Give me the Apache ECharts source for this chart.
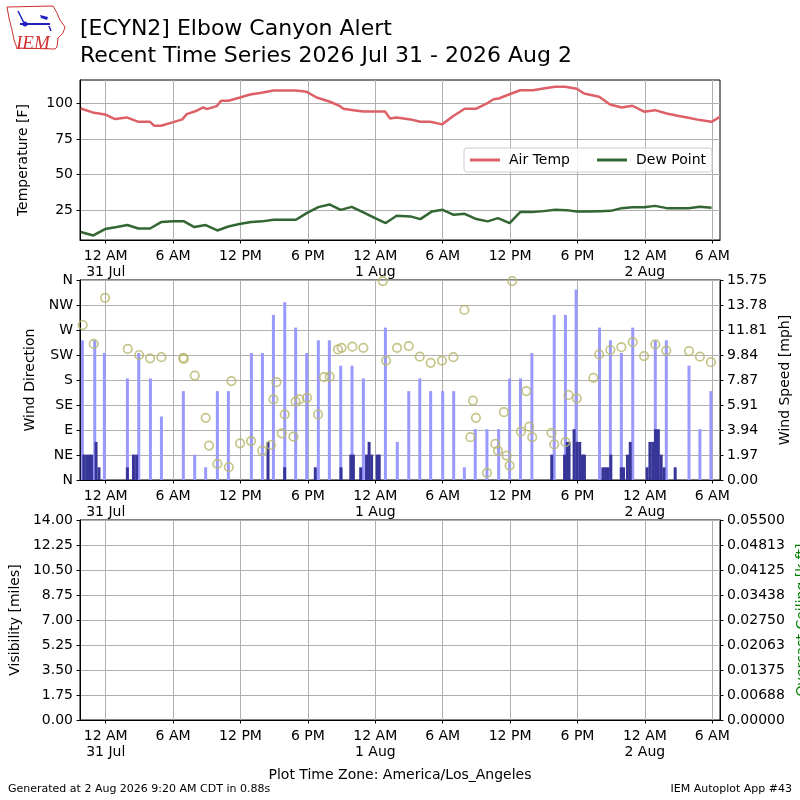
<!DOCTYPE html>
<html>
<head>
<meta charset="utf-8">
<script src="https://cdn.jsdelivr.net/npm/echarts@6/dist/echarts.min.js"></script>
<style>html,body{margin:0;padding:0;background:#fff}#chart{width:800px;height:800px}</style>
</head>
<body>
<div id="chart"></div>
<script>
// hours counted from 31 Jul 00:00 (America/Los_Angeles)
var xMin = -2.29, xMax = 54.69;
var tickHours = [0, 6, 12, 18, 24, 30, 36, 42, 48, 54];
var hourNames = {0: '12 AM', 6: '6 AM', 12: '12 PM', 18: '6 PM'};
var dayNames = ['31 Jul', '1 Aug', '2 Aug'];

var airTempTimes = [-2.23, -1.16, -0.06, 0.83, 1.87, 2.91, 3.95, 4.33, 4.93, 6.02, 6.82, 7.21, 8.1, 8.69, 8.99, 9.88, 10.27, 10.92, 11.96, 12.85, 13.89, 14.93, 16.94, 17.89, 18.78, 19.97, 20.86, 21.16, 22.05, 22.94, 23.98, 24.87, 25.3, 25.9, 27.13, 28.01, 28.9, 29.94, 30.98, 31.96, 33.0, 33.94, 34.53, 34.98, 35.96, 36.9, 38.03, 38.98, 40.01, 40.9, 41.94, 42.59, 43.93, 44.9, 45.94, 46.89, 47.93, 48.9, 49.94, 50.92, 51.87, 52.9, 53.94, 54.69];
var airTemp = [96.5, 93.7, 92.3, 89, 90.2, 87.1, 87.1, 84.3, 84.3, 86.9, 88.8, 92.5, 94.9, 97.2, 96, 98.1, 101.9, 101.9, 104.2, 106.3, 107.5, 109.1, 109.1, 108.2, 104.2, 101.2, 98.1, 96.3, 95.3, 94.4, 94.4, 94.4, 89.5, 90.2, 88.8, 87.1, 87.1, 85.3, 91.4, 96.3, 96.3, 100, 103, 103.5, 106.5, 109.3, 109.3, 110.5, 111.7, 111.7, 110.3, 107, 104.7, 99.3, 97.2, 98.4, 94.2, 95.3, 93, 91.4, 90, 88.3, 87.1, 90.7];

var dewTimes = [-2.23, -1.1, -0.06, 0.98, 1.93, 2.91, 3.95, 4.93, 6.02, 6.97, 7.89, 8.9, 9.94, 10.92, 11.9, 12.94, 13.95, 14.93, 16.94, 17.89, 18.93, 19.91, 20.92, 21.9, 22.94, 23.98, 24.93, 25.9, 27.13, 28.01, 29.05, 30, 30.98, 31.96, 33.0, 34.0, 34.92, 35.96, 36.9, 37.94, 38.98, 40.01, 41.0, 41.94, 42.98, 44.01, 44.96, 45.94, 46.89, 47.93, 48.9, 49.94, 50.92, 51.87, 52.9, 53.94];
var dewPoint = [9.6, 7.2, 11.7, 13.1, 14.5, 12.1, 12.1, 16.6, 17.1, 17.1, 13.1, 14.5, 10.7, 13.5, 15.2, 16.6, 17.1, 18.2, 18.2, 22.9, 27.1, 29, 25.2, 27.3, 23.4, 19.4, 15.9, 21, 20.6, 18.7, 24.1, 25.2, 21.7, 22.4, 18.7, 17.1, 19.4, 15.9, 23.6, 23.6, 24.3, 25.2, 25, 24.1, 24.1, 24.3, 24.5, 26.4, 27.1, 27.1, 28, 26.4, 26.4, 26.4, 27.3, 26.6];

var gustTimes = [-2.08, -0.98, -0.12, 1.93, 2.94, 3.98, 4.96, 6.91, 7.92, 8.9, 9.94, 10.92, 12.97, 13.95, 14.93, 15.94, 16.91, 17.89, 18.93, 19.91, 20.92, 21.93, 22.94, 24.9, 25.96, 26.98, 27.96, 28.93, 30.0, 30.98, 31.93, 32.9, 33.94, 34.98, 35.96, 36.93, 37.94, 39.93, 40.93, 41.88, 43.96, 44.93, 45.91, 46.92, 48.93, 49.91, 51.93, 52.9, 53.88];
var gustValues = [11, 11, 10, 8, 10, 8, 5, 7, 2, 1, 7, 7, 10, 10, 13, 14, 12, 10, 11, 11, 9, 9, 8, 12, 3, 7, 8, 7, 7, 7, 1, 4, 4, 4, 8, 8, 10, 13, 13, 15, 12, 11, 10, 12, 11, 11, 9, 4, 7];

var speedTimes = [-1.95, -1.7, -1.45, -1.25, -0.86, -0.6, 1.93, 2.47, 2.75, 14.45, 15.93, 18.66, 20.95, 21.82, 22.05, 22.7, 23.22, 23.45, 23.67, 24.17, 24.35, 39.71, 40.85, 41.1, 41.25, 41.7, 41.95, 42.2, 42.45, 42.62, 44.26, 44.5, 44.73, 44.97, 45.9, 46.1, 46.45, 46.7, 48.2, 48.45, 48.7, 48.95, 49.2, 49.45, 49.7, 50.7];
var speedValues = [2, 2, 2, 2, 3, 1, 1, 2, 2, 3, 1, 1, 1, 2, 2, 1, 2, 3, 2, 2, 2, 2, 2, 3, 3, 4, 3, 3, 2, 2, 1, 1, 1, 2, 1, 1, 2, 3, 1, 3, 3, 4, 4, 2, 1, 1];

var dirTimes = [-2.05, -1.07, -0.06, 1.96, 2.97, 3.95, 4.96, 6.9, 6.95, 7.93, 8.9, 9.2, 9.94, 10.96, 11.19, 11.96, 12.94, 13.93, 14.7, 14.93, 15.2, 15.67, 15.94, 16.71, 16.91, 17.24, 17.92, 18.9, 19.44, 19.94, 20.68, 21.0, 21.96, 22.94, 24.67, 24.96, 25.94, 26.98, 27.96, 28.93, 29.94, 30.95, 31.93, 32.46, 32.7, 32.96, 33.94, 34.68, 34.92, 35.45, 35.69, 35.96, 36.19, 36.96, 37.44, 37.7, 37.97, 39.69, 39.93, 40.93, 41.2, 41.94, 43.42, 43.93, 44.93, 45.91, 46.92, 47.93, 48.93, 49.91, 51.93, 52.9, 53.88];
var dirValues = [279, 245, 328, 236, 225, 219, 221, 220, 218, 188, 112, 62, 29, 23, 178, 66, 70, 53, 63, 145, 176, 84, 118, 78, 141, 145, 148, 118, 185, 186, 235, 238, 240, 238, 358, 215, 238, 241, 222, 211, 215, 221, 306, 77, 143, 112, 13, 65, 53, 122, 44, 26, 358, 87, 160, 96, 77, 85, 64, 68, 153, 147, 184, 226, 234, 239, 248, 223, 244, 233, 232, 222, 212];

var tempTicks = [25, 50, 75, 100];
var dirLabels = ['N', 'NE', 'E', 'SE', 'S', 'SW', 'W', 'NW', 'N'];
var speedLabels = ['0.00', '1.97', '3.94', '5.91', '7.87', '9.84', '11.81', '13.78', '15.75'];
var visLabels = ['0.00', '1.75', '3.50', '5.25', '7.00', '8.75', '10.50', '12.25', '14.00'];
var ceilLabels = ['0.00000', '0.00688', '0.01375', '0.02063', '0.02750', '0.03438', '0.04125', '0.04813', '0.05500'];

var FONT = 'DejaVu Sans';

function zip(a, b) {
    var out = [];
    for (var i = 0; i < a.length; i++) out.push([a[i], b[i]]);
    return out;
}

function timeLabel(v) {
    var h = Math.round(v);
    var hh = ((h % 24) + 24) % 24;
    var txt = hourNames[hh];
    if (hh === 0) txt += '\n' + dayNames[Math.floor(h / 24)];
    return txt;
}

function timeAxis(gridIndex, show) {
    return {
        type: 'value', gridIndex: gridIndex, min: xMin, max: xMax, show: show,
        axisLine: {show: true, onZero: false, lineStyle: {color: '#000', width: 1}},
        axisTick: {show: true, length: 3.5, customValues: tickHours, lineStyle: {color: '#000'}},
        axisLabel: {customValues: tickHours, formatter: timeLabel, color: '#000', fontSize: 14,
            lineHeight: 16, margin: 8, fontFamily: FONT},
        splitLine: {show: true, lineStyle: {color: '#b0b0b0', width: 1}}
    };
}

function valueAxis(gridIndex, opts) {
    var ax = {
        type: 'value', gridIndex: gridIndex,
        nameLocation: 'middle', nameRotate: 90,
        nameTextStyle: {color: '#000', fontSize: 14, fontFamily: FONT},
        axisLine: {show: true, onZero: false, lineStyle: {color: '#000', width: 1}},
        axisTick: {show: true, length: 3.5, lineStyle: {color: '#000'}},
        axisLabel: {color: '#000', fontSize: 14, margin: 7, fontFamily: FONT},
        splitLine: {show: true, lineStyle: {color: '#b0b0b0', width: 1}}
    };
    for (var k in opts) {
        if (typeof opts[k] === 'object' && ax[k] && !Array.isArray(opts[k])) {
            for (var j in opts[k]) ax[k][j] = opts[k][j];
        } else {
            ax[k] = opts[k];
        }
    }
    return ax;
}

var gridBase = {left: 80, right: 80, show: true, borderColor: '#000', borderWidth: 1,
    backgroundColor: 'transparent', outerBoundsMode: 'none'};
function grid(top, height) {
    var g = {};
    for (var k in gridBase) g[k] = gridBase[k];
    g.top = top;
    g.height = height;
    return g;
}

var chart = echarts.init(document.getElementById('chart'));

var option = {
    animation: false,
    backgroundColor: '#fff',
    textStyle: {fontFamily: FONT},
    title: {
        text: '[ECYN2] Elbow Canyon Alert\nRecent Time Series 2026 Jul 31 - 2026 Aug 2',
        left: 80, top: 16, padding: 0,
        textStyle: {fontSize: 22, fontWeight: 'normal', color: '#000', lineHeight: 27, fontFamily: FONT}
    },
    legend: {
        data: ['Air Temp', 'Dew Point'],
        left: 464, top: 148,
        icon: 'rect',
        itemWidth: 30, itemHeight: 3, itemGap: 27,
        padding: [5, 6, 5, 6],
        borderColor: '#cccccc', borderWidth: 1, borderRadius: 3,
        backgroundColor: 'rgba(255,255,255,0.8)',
        textStyle: {fontSize: 14, color: '#000', fontFamily: FONT, padding: [0, 0, 0, 4], lineHeight: 14}
    },
    grid: [grid(80, 160), grid(280, 200), grid(520, 200)],
    xAxis: [timeAxis(0, true), timeAxis(1, true), timeAxis(1, false), timeAxis(2, true)],
    yAxis: [
        valueAxis(0, {min: 4, max: 116.5, name: 'Temperature [F]', nameGap: 50,
            axisTick: {customValues: tempTicks}, axisLabel: {customValues: tempTicks}}),
        valueAxis(1, {min: 0, max: 360, interval: 45, name: 'Wind Direction', nameGap: 37.5,
            axisLabel: {formatter: function (v) { return dirLabels[Math.round(v / 45)]; }}}),
        valueAxis(1, {min: 0, max: 15.75, interval: 1.96875, position: 'right', name: 'Wind Speed [mph]',
            nameGap: 52, splitLine: {show: false},
            axisLabel: {formatter: function (v) { return speedLabels[Math.round(v / 1.96875)]; }}}),
        valueAxis(2, {min: 0, max: 14, interval: 1.75, name: 'Visibility [miles]', nameGap: 56,
            axisLabel: {formatter: function (v) { return visLabels[Math.round(v / 1.75)]; }}}),
        valueAxis(2, {min: 0, max: 0.055, interval: 0.006875, position: 'right', name: 'Overcast Ceiling [k ft]',
            nameGap: 72, splitLine: {show: false},
            nameTextStyle: {color: '#008000'},
            axisLabel: {formatter: function (v) { return ceilLabels[Math.round(v / 0.006875)]; }}})
    ],
    series: [
        {name: 'Air Temp', type: 'line', xAxisIndex: 0, yAxisIndex: 0, symbol: 'none',
            color: '#dd6066', itemStyle: {color: '#dd6066'}, lineStyle: {width: 2.5, color: '#dd6066'},
            data: zip(airTempTimes, airTemp), z: 3},
        {name: 'Dew Point', type: 'line', xAxisIndex: 0, yAxisIndex: 0, symbol: 'none',
            color: '#336633', itemStyle: {color: '#336633'}, lineStyle: {width: 2.5, color: '#336633'},
            data: zip(dewTimes, dewPoint), z: 3},
        {name: 'Gust', type: 'bar', xAxisIndex: 1, yAxisIndex: 2, barWidth: 3,
            itemStyle: {color: '#9999ff'}, data: zip(gustTimes, gustValues), z: 2},
        {name: 'Speed', type: 'bar', xAxisIndex: 2, yAxisIndex: 2, barWidth: 3,
            itemStyle: {color: '#373698'}, data: zip(speedTimes, speedValues), z: 3},
        {name: 'Direction', type: 'scatter', xAxisIndex: 1, yAxisIndex: 1, symbol: 'circle', symbolSize: 8.5,
            itemStyle: {color: 'rgba(0,0,0,0)', borderColor: '#b8b76c', borderWidth: 1.7},
            data: zip(dirTimes, dirValues), z: 4},
        {name: 'Visibility', type: 'line', xAxisIndex: 3, yAxisIndex: 3, data: []}
    ],
    graphic: [
        {type: 'polyline', shape: {points: [[7, 7], [53, 6], [57, 13], [60, 20], [65, 27], [63, 33], [58, 38], [57, 47], [55, 49], [17, 48], [14, 40], [12, 30], [9, 18], [7, 7]]},
            style: {stroke: '#d03030', fill: 'none', lineWidth: 1}},
        {type: 'text', style: {text: 'IEM', x: 16, y: 34, font: 'italic 19px "Liberation Serif"', fill: '#d03030'}},
        {type: 'line', shape: {x1: 20, y1: 24, x2: 50, y2: 24}, style: {stroke: '#2020c0', lineWidth: 2}},
        {type: 'line', shape: {x1: 18, y1: 11, x2: 24, y2: 23}, style: {stroke: '#2020c0', lineWidth: 1.5}},
        {type: 'polygon', shape: {points: [[40, 15], [48, 17], [47, 20], [41, 18]]}, style: {fill: '#2020c0'}},
        {type: 'circle', shape: {cx: 25, cy: 24, r: 2.5}, style: {fill: '#2020c0'}},
        {type: 'line', shape: {x1: 49, y1: 26, x2: 51, y2: 31}, style: {stroke: '#2020c0', lineWidth: 1.5}},
        {type: 'text', style: {text: 'Plot Time Zone: America/Los_Angeles', x: 400, y: 775, align: 'center',
            verticalAlign: 'middle', font: '14px "DejaVu Sans"', fill: '#000'}},
        {type: 'text', style: {text: 'Generated at 2 Aug 2026 9:20 AM CDT in 0.88s', x: 8, y: 789,
            verticalAlign: 'middle', font: '11px "DejaVu Sans"', fill: '#000'}},
        {type: 'text', style: {text: 'IEM Autoplot App #43', x: 792, y: 789, align: 'right',
            verticalAlign: 'middle', font: '11px "DejaVu Sans"', fill: '#000'}}
    ]
};

chart.setOption(option);
</script>
</body>
</html>
